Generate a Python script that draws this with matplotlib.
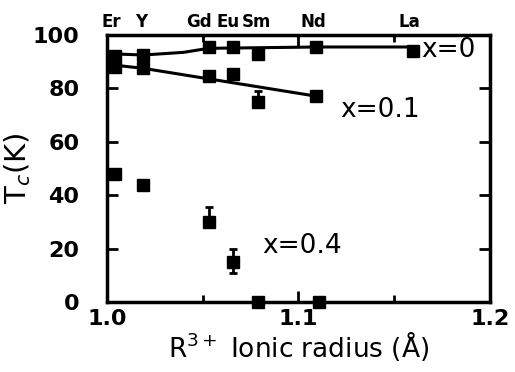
import matplotlib
matplotlib.use("Agg")
import matplotlib.pyplot as plt

# ionic radii of the rare earths (top labels)
elements = ["Er", "Y", "Gd", "Eu", "Sm", "Nd", "La"]
radii = [1.004, 1.019, 1.053, 1.066, 1.079, 1.109, 1.160]
label_pos = [1.002, 1.018, 1.048, 1.063, 1.078, 1.108, 1.158]

# Tc for x=0
tc_x0 = [92, 92.5, 95.5, 95.5, 93, 95.5, 94]
# Tc for x=0.1 (no La point)
radii_01 = [1.004, 1.019, 1.053, 1.066, 1.079, 1.109]
tc_x01 = [88, 87.5, 84.5, 85.5, 75, 77]
err01_lo = [0, 0, 0, 0, 0, 0]
err01_hi = [0, 0, 0, 0, 4, 0]
# Tc for x=0.4
radii_04 = [1.004, 1.019, 1.053, 1.066, 1.079, 1.111]
tc_x04 = [48, 44, 30, 15, 0, 0]
err04_lo = [0, 0, 0, 4, 0, 0]
err04_hi = [0, 0, 5.5, 5, 0, 0]

# guide lines drawn in the original
fit0_x = [1.0, 1.019, 1.040, 1.053, 1.110, 1.160]
fit0_y = [93, 92.5, 93.5, 95, 95.5, 95.5]
fit01_x = [1.0, 1.019, 1.110]
fit01_y = [89, 87.5, 77]

fig = plt.figure(figsize=(5.15, 3.72), dpi=100)
ax = fig.add_axes([0.208, 0.188, 0.743, 0.718])

ax.plot(fit0_x, fit0_y, color="black", lw=2.2)
ax.plot(fit01_x, fit01_y, color="black", lw=2.2)

ax.plot(radii, tc_x0, "s", color="black", ms=9)
ax.errorbar(radii_01, tc_x01, yerr=[err01_lo, err01_hi], fmt="s", color="black",
            ms=9, elinewidth=2, capsize=3, capthick=2)
ax.errorbar(radii_04, tc_x04, yerr=[err04_lo, err04_hi], fmt="s", color="black",
            ms=9, elinewidth=2, capsize=3, capthick=2, clip_on=False)

ax.text(1.164, 94.5, "x=0", fontsize=19, va="center", ha="left")
ax.text(1.122, 72, "x=0.1", fontsize=19, va="center", ha="left")
ax.text(1.081, 21, "x=0.4", fontsize=19, va="center", ha="left")

for el, r in zip(elements, label_pos):
    ax.text(r, 101.5, el, fontsize=12, fontweight="bold", ha="center", va="bottom")

ax.set_xlim(1.0, 1.2)
ax.set_ylim(0, 100)
ax.set_xticks([1.0, 1.1, 1.2])
ax.set_xticklabels(["1.0", "1.1", "1.2"])
ax.set_xticks([1.05, 1.15], minor=True)
ax.set_yticks([0, 20, 40, 60, 80, 100])
ax.tick_params(axis="both", which="major", direction="in", length=8, width=2,
               labelsize=16, top=True, right=True)
ax.tick_params(axis="x", which="major", pad=5)
ax.tick_params(axis="y", which="major", pad=20)
ax.tick_params(axis="both", which="minor", direction="in", length=5, width=2,
               top=True, right=True)
for lab in ax.get_xticklabels() + ax.get_yticklabels():
    lab.set_fontweight("bold")
for s in ax.spines.values():
    s.set_linewidth(2.5)

ax.set_xlabel(r"R$^{3+}$ Ionic radius ($\mathrm{\AA}$)", fontsize=19, labelpad=0)
ax.set_ylabel(r"T$_c$(K)", fontsize=21, labelpad=0)

fig.savefig("out.png", dpi=100)
